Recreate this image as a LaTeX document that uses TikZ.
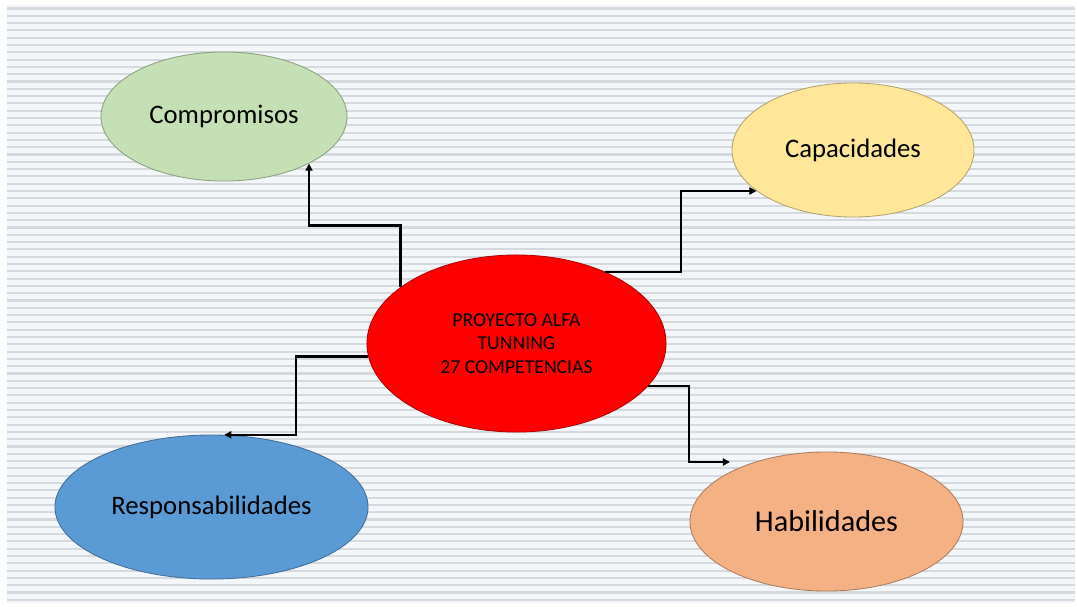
\documentclass[tikz,border=0pt]{standalone}
\usepackage{fontspec}
\setmainfont{Carlito}
\usetikzlibrary{shapes.geometric,arrows.meta,calc}
\definecolor{verde}{HTML}{C5E0B4}
\definecolor{amarillo}{HTML}{FFE699}
\definecolor{azul}{HTML}{5B9BD5}
\definecolor{naranja}{HTML}{F4B183}
\definecolor{rojo}{HTML}{FF0000}
\definecolor{fondo}{HTML}{F4F7FA}
\definecolor{raya}{HTML}{D5D9DD}
\begin{document}
\begin{tikzpicture}[x=0.025cm,y=-0.025cm,
  burbuja/.style={ellipse,draw=#1!70!black,fill=#1,line width=0.6pt,inner sep=0pt,
    font=\fontsize{19}{23}\selectfont},
  flecha/.style={line width=1.7pt,-{Triangle[length=5pt,width=5pt]}},
  rayas/.style={draw=raya,line width=1.5pt}]
\useasboundingbox (0,0) rectangle (1077,606);
%fondo rayado
\fill[fondo] (7,5) rectangle (1075,603);
\foreach \i in {0,...,81} \draw[rayas] (7,8.5+7.3*\i) -- (1075,8.5+7.3*\i);

%burbujas
\node[burbuja=verde,minimum width=6.15cm,minimum height=3.225cm] (comp) at (224,116.5) {Compromisos};
\node[burbuja=amarillo,minimum width=6.05cm,minimum height=3.35cm] (capa) at (853,150) {Capacidades};
\node[burbuja=rojo,minimum width=7.475cm,minimum height=4.425cm,align=center,
  font=\fontsize{14}{16.7}\selectfont] (centro) at (516.5,343.5) {PROYECTO ALFA\\TUNNING\\27 COMPETENCIAS};
\node[burbuja=azul,minimum width=7.825cm,minimum height=3.6cm] (resp) at (211.5,507) {Responsabilidades};
\node[burbuja=naranja,minimum width=6.825cm,minimum height=3.475cm,
  font=\fontsize{21.5}{26}\selectfont] (habi) at (826.5,521.5) {Habilidades};

%flechas
\coordinate (habtip) at (730,462);
\draw[flecha] (centro.154) |- ($(centro.154)!.5!(comp.331)$) -| (comp.331);
\draw[flecha] (centro.39) -| ($(centro.39)!.5!(capa.203)$) |- (capa.203);
\draw[flecha] (centro.185) -| ($(centro.185)!.5!(resp.80)$) |- (resp.80);
\draw[flecha] (centro.342) -| ($(centro.342)!.5!(habtip)$) |- (habtip);
\end{tikzpicture}
\end{document}
